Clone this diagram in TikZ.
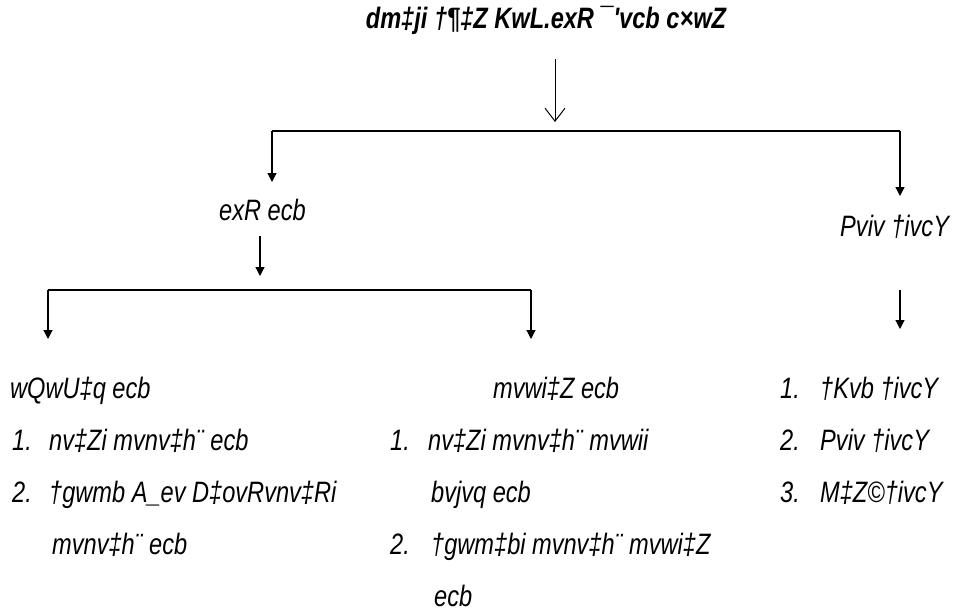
\documentclass[tikz,border=0pt]{standalone}
\usepackage{fontspec}
\newfontfamily\bnfont[FakeStretch=0.8,Ligatures=TeXOff]{Liberation Sans}
\usetikzlibrary{arrows.meta}
\begin{document}
\begin{tikzpicture}[x=1pt,y=-1pt,
  txt/.style={inner sep=0pt, anchor=base west, font=\bnfont\itshape\fontsize{29.5}{34}\selectfont},
  ttl/.style={inner sep=0pt, anchor=base, font=\bnfont\bfseries\itshape\fontsize{29.5}{34}\selectfont},
  bar/.style={line width=2.2pt},
  stem/.style={line width=1.2pt},
  tip/.style={stem,-{Triangle[width=9pt,length=9pt]}},
  openarr/.style={line width=1pt,-{Straight Barb[length=13pt,width=20pt]}}]
\useasboundingbox (0,0) rectangle (961,615);
% texts
\node[ttl] (title) at (546,29) {dm‡ji †¶‡Z KwL.exR ¯'vcb c×wZ};
\node[txt] (seed) at (219,220) {exR ecb};
\node[txt] (trans) at (840,236) {Pviv †ivcY};
% row 1
\node[txt] (broad) at (10,398) {wQwU‡q ecb};
\node[txt] (line) at (493,398) {mvwi‡Z ecb};
\node[txt] (r1n) at (780,398) {1.};
\node[txt] (r1t) at (820,398) {†Kvb †ivcY};
% left list
\node[txt] (l1n) at (12,450) {1.};
\node[txt] (l1t) at (49,450) {nv‡Zi mvnv‡h¨ ecb};
\node[txt] (l2n) at (12,502) {2.};
\node[txt] (l2t) at (49,502) {†gwmb A\_ev D‡ovRvnv‡Ri};
\node[txt] (l2u) at (52,554) {mvnv‡h¨ ecb};
% middle list
\node[txt] (m1n) at (390,450) {1.};
\node[txt] (m1t) at (428,450) {nv‡Zi mvnv‡h¨ mvwii};
\node[txt] (m1u) at (431,502) {bvjvq ecb};
\node[txt] (m2n) at (390,554) {2.};
\node[txt] (m2t) at (431,554) {†gwm‡bi mvnv‡h¨ mvwi‡Z};
\node[txt] (m2u) at (434,606) {ecb};
% right list
\node[txt] (r2n) at (780,450) {2.};
\node[txt] (r2t) at (820,450) {Pviv †ivcY};
\node[txt] (r3n) at (780,502) {3.};
\node[txt] (r3t) at (820,502) {M‡Z©†ivcY};
% connector points
\coordinate (a0) at (555,59);
\coordinate (a1) at (555,122);
\coordinate (b1l) at (272,131);
\coordinate (b1r) at (900,131);
\coordinate (b1le) at (272,182);
\coordinate (b1re) at (900,196);
\coordinate (c0) at (260,236);
\coordinate (c1) at (260,276);
\coordinate (b2l) at (48,290);
\coordinate (b2r) at (531,290);
\coordinate (b2le) at (48,339);
\coordinate (b2re) at (531,339);
\coordinate (d0) at (900,290);
\coordinate (d1) at (900,329);
% connectors
\draw[openarr] (a0) -- (a1);
\draw[bar] (b1l) -- (b1r);
\draw[tip] (b1l) -- (b1le);
\draw[tip] (b1r) -- (b1re);
\draw[tip] (c0) -- (c1);
\draw[bar] (b2l) -- (b2r);
\draw[tip] (b2l) -- (b2le);
\draw[tip] (b2r) -- (b2re);
\draw[tip] (d0) -- (d1);
\end{tikzpicture}
\end{document}
